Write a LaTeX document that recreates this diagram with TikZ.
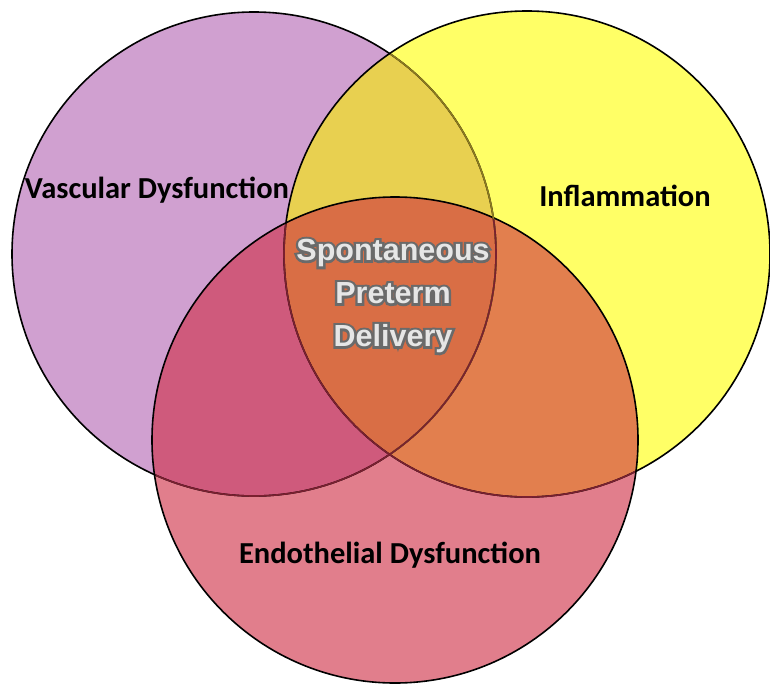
\documentclass[tikz,border=0pt]{standalone}
\usepackage{fontspec}
\setmainfont{Carlito}
\newfontfamily\centerfont{Liberation Sans}
\newfontfamily\glowfont[FakeBold=16]{Liberation Sans}
\definecolor{cpurple}{HTML}{D0A0D0}
\definecolor{cyellow}{HTML}{FFFF66}
\definecolor{cpink}{HTML}{E17E8C}
\definecolor{cpy}{HTML}{E8D050}
\definecolor{cpp}{HTML}{CF5A7C}
\definecolor{cyp}{HTML}{E27F4E}
\definecolor{call}{HTML}{D96E45}
\definecolor{colive}{HTML}{8C7A20}
\definecolor{cdred}{HTML}{7A2030}
\definecolor{ctext}{HTML}{E6E6E6}
\definecolor{cglow}{HTML}{6A6A6A}
\tikzset{
  setlabel/.style={font=\bfseries\fontsize{30.5}{34}\selectfont, text=black, inner sep=0pt},
  glowtext/.style={font=\glowfont\bfseries\fontsize{30.5}{43}\selectfont, text=cglow, inner sep=0pt, align=center},
  maintext/.style={font=\centerfont\bfseries\fontsize{30.5}{43}\selectfont, text=ctext, inner sep=0pt, align=center},
  ring/.style={line width=1.6pt}
}
\begin{document}
\begin{tikzpicture}[x=1pt,y=-1pt]
\useasboundingbox (0,0) rectangle (770,685);
\def\purplecirc{(254,254) circle (242)}
\def\yellowcirc{(527,254) circle (243)}
\def\pinkcirc{(395,440) circle (243)}
% base fills
\fill[cpurple] \purplecirc;
\fill[cyellow] \yellowcirc;
\fill[cpink] \pinkcirc;
% pairwise overlaps
\begin{scope}\clip \purplecirc; \fill[cpy] \yellowcirc; \end{scope}
\begin{scope}\clip \purplecirc; \fill[cpp] \pinkcirc; \end{scope}
\begin{scope}\clip \yellowcirc; \fill[cyp] \pinkcirc; \end{scope}
\begin{scope}\clip \purplecirc; \clip \yellowcirc; \fill[call] \pinkcirc; \end{scope}
% outlines
\draw[ring] \purplecirc;
\draw[ring] \yellowcirc;
\draw[ring] \pinkcirc;
\begin{scope}\clip (527,254) circle (242); \draw[ring, colive] \purplecirc; \end{scope}
\begin{scope}\clip (395,440) circle (242); \draw[ring, cdred] \purplecirc; \draw[ring, cdred] \yellowcirc; \end{scope}
% labels
\node[setlabel] (vasc) at (157,190) {Vascular Dysfunction};
\node[setlabel] (infl) at (625,196) {Inflammation};
\node[setlabel] (endo) at (390,555) {Endothelial Dysfunction};
% center label with glow
\node[glowtext] (spdglow) at (393,296) {Spontaneous\\Preterm\\Delivery};
\node[maintext] (spd) at (spdglow.center) {Spontaneous\\Preterm\\Delivery};
\end{tikzpicture}
\end{document}
